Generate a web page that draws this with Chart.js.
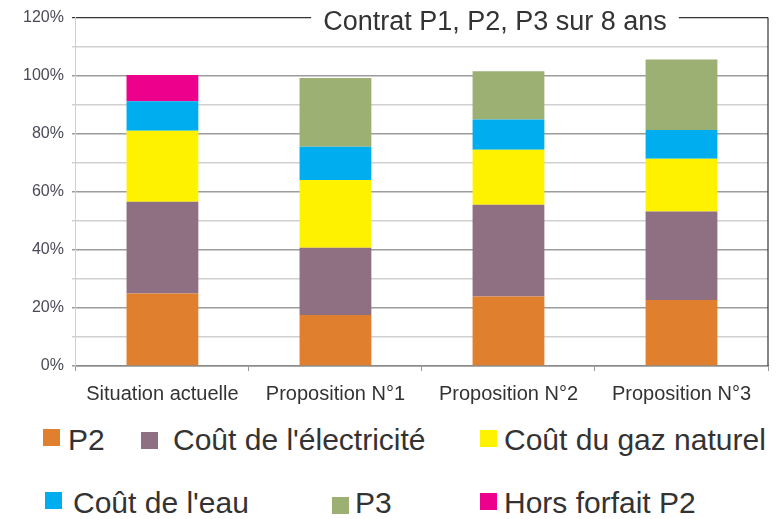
<!DOCTYPE html>
<html lang="fr">
<head>
<meta charset="utf-8">
<script src="https://cdn.jsdelivr.net/npm/chart.js@4/dist/chart.umd.min.js"></script>
<style>
  html, body { margin: 0; padding: 0; background: #fff; }
  #wrap { position: relative; width: 778px; height: 519px; overflow: hidden; font-family: "Liberation Sans", Arial, sans-serif; }
  #box { position: absolute; left: 0; top: 0; width: 778px; height: 417px; }
  .lg-box { position: absolute; width: 17px; height: 17px; }
  .lg-text { position: absolute; font-size: 30px; line-height: 30px; color: #333; white-space: nowrap; }
</style>
</head>
<body>
<div id="wrap">
  <div id="box"><canvas id="chart"></canvas></div>
  <div id="legend"></div>
</div>
<script>
const title = 'Contrat P1, P2, P3 sur 8 ans';
const categories = ['Situation actuelle', 'Proposition N°1', 'Proposition N°2', 'Proposition N°3'];

// parts in % of the current situation total, bottom to top
const p2 = [25, 17.6, 23.9, 22.7];
const electricite = [31.6, 23.1, 31.6, 30.5];
const gazNaturel = [24.4, 23.4, 19, 18.2];
const eau = [10.2, 11.4, 10.4, 9.9];
const p3 = [0, 23.7, 16.6, 24.3];
const horsForfait = [9, 0, 0, 0];

const yTicks = [0, 20, 40, 60, 80, 100, 120];

const series = [
  { label: 'P2', data: p2, color: '#E07F2E' },
  { label: "Coût de l'électricité", data: electricite, color: '#8F7083' },
  { label: 'Coût du gaz naturel', data: gazNaturel, color: '#FFF200' },
  { label: "Coût de l'eau", data: eau, color: '#00AEEF' },
  { label: 'P3', data: p3, color: '#9DB073' },
  { label: 'Hors forfait P2', data: horsForfait, color: '#EC008C' }
];

const FONT = '"Liberation Sans", Arial, sans-serif';

const frameTitle = {
  id: 'frameTitle',
  afterDraw(chart) {
    const { ctx, chartArea } = chart;
    ctx.save();
    ctx.strokeStyle = '#333';
    ctx.lineWidth = 1.2;
    ctx.beginPath();
    ctx.moveTo(chartArea.right, chartArea.top);
    ctx.lineTo(chartArea.right, chartArea.bottom);
    ctx.stroke();

    ctx.font = '27px ' + FONT;
    const w = ctx.measureText(title).width;
    const cx = 495;
    ctx.fillStyle = '#fff';
    ctx.fillRect(cx - w / 2 - 12, chartArea.top - 4, w + 24, 8);
    ctx.fillStyle = '#333';
    ctx.textAlign = 'center';
    ctx.textBaseline = 'alphabetic';
    ctx.fillText(title, cx, 30);
    ctx.restore();
  }
};

function gridColor(c) {
  const v = c.tick ? c.tick.value : 0;
  if (v === 120) return '#333';
  if (v % 20 === 0) return '#9c9c9c';
  return '#d0d0d0';
}

function drawChart() {
  const ctx = document.getElementById('chart').getContext('2d');
  new Chart(ctx, {
    type: 'bar',
    data: {
      labels: categories,
      datasets: series.map(s => ({
        label: s.label,
        data: s.data,
        backgroundColor: s.color,
        borderWidth: 0,
        categoryPercentage: 1,
        barPercentage: 0.415
      }))
    },
    options: {
      responsive: true,
      maintainAspectRatio: false,
      animation: false,
      layout: { padding: { left: 15, right: 10, top: 10, bottom: 0 } },
      plugins: {
        legend: { display: false },
        tooltip: { enabled: false }
      },
      scales: {
        x: {
          stacked: true,
          grid: { display: true, drawOnChartArea: false, drawTicks: true, tickLength: 5, color: '#999', offset: true },
          border: { color: '#8a8a8a', width: 1.5 },
          ticks: { color: '#333', font: { family: FONT, size: 20 }, padding: 11 }
        },
        y: {
          stacked: true,
          min: 0,
          max: 120,
          grid: { color: gridColor, lineWidth: c => (c.tick && c.tick.value === 120 ? 1.2 : 1.5), tickLength: 4 },
          border: { color: '#d0d0d0' },
          ticks: {
            stepSize: 10,
            autoSkip: false,
            color: '#4a4a58',
            font: { family: FONT, size: 16 },
            padding: 8,
            callback: v => (yTicks.includes(v) ? v + '%' : '')
          }
        }
      }
    },
    plugins: [frameTitle]
  });
}

function drawLegend() {
  const legend = document.getElementById('legend');
  // box x, box y, text x, text top
  const spots = [
    [43, 429, 68, 425],
    [141, 432, 173, 425],
    [480, 430, 504, 425],
    [45, 492, 73, 488],
    [332, 497, 355, 488],
    [480, 493, 504, 488]
  ];
  series.forEach((s, i) => {
    const [bx, by, tx, ty] = spots[i];
    legend.innerHTML += `<div class="lg-box" style="left:${bx}px;top:${by}px;background:${s.color}"></div>` +
      `<div class="lg-text" style="left:${tx}px;top:${ty}px">${s.label}</div>`;
  });
}

window.addEventListener('DOMContentLoaded', () => {
  drawChart();
  drawLegend();
});
</script>
</body>
</html>
